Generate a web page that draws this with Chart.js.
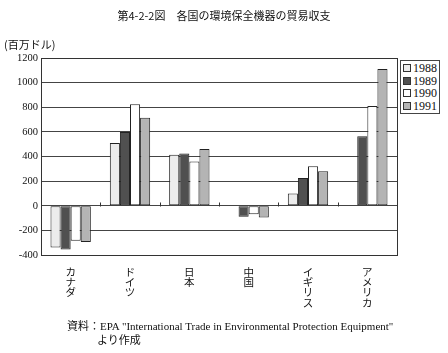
<!DOCTYPE html>
<html><head><meta charset="utf-8">
<script src="https://cdn.jsdelivr.net/npm/chart.js@4/dist/chart.umd.min.js"></script>
<style>
html,body{margin:0;padding:0;background:#fff;}
#wrap{position:relative;width:448px;height:353px;overflow:hidden;font-family:"Noto Sans CJK JP","Liberation Serif",serif;color:#111;}
#c{position:absolute;left:0;top:0;}
.t{position:absolute;white-space:nowrap;}
#title{left:0;width:448px;top:7px;text-align:center;font-size:11px;}
#unit{left:4px;top:36px;font-size:11px;}
#src{left:67px;top:320px;font-size:11px;line-height:13px;font-family:"Liberation Serif","Noto Sans CJK JP",serif;color:#111;}
#legend{position:absolute;left:400px;top:60px;width:36px;border:1px solid #444;padding:1px 0 1px 2px;font-family:"Liberation Serif",serif;font-size:12px;line-height:12.5px;background:#fff;color:#111;}
#legend div{display:flex;align-items:center;}
#legend span.sw{display:inline-block;width:8px;height:8px;border:1px solid #333;margin-right:2px;box-sizing:border-box;}
</style></head>
<body><div id="wrap">
<canvas id="c" width="448" height="353"></canvas>
<div class="t" id="title">第4-2-2図　各国の環境保全機器の貿易収支</div>
<div class="t" id="unit">(百万ドル)</div>
<div class="t" id="src">資料：EPA "International Trade in Environmental Protection Equipment"<br><span style="padding-left:30px;font-family:'Noto Sans CJK JP'">より作成</span></div>
<div id="legend"></div>
</div>
<script>
const categories = [["カ","ナ","ダ"],["ド","イ","ツ"],["日","本"],["中","国"],["イ","ギ","リ","ス"],["ア","メ","リ","カ"]];
const years = ["1988","1989","1990","1991"];
const v1988 = [-340, 510, 415, null, 100, null];
const v1989 = [-355, 600, 425, -90, 225, 565];
const v1990 = [-285, 825, 360, -70, 320, 810];
const v1991 = [-295, 715, 460, -95, 280, 1110];
const yTicks = [-400,-200,0,200,400,600,800,1000,1200];
const colors = ["#ececec","#505050","#ffffff","#b4b4b4"];
const series = [v1988, v1989, v1990, v1991];

const leg = document.getElementById('legend');
years.forEach((y,i)=>{
  const d=document.createElement('div');
  d.innerHTML='<span class="sw" style="background:'+colors[i]+'"></span>'+y;
  leg.appendChild(d);
});

const frame = {
  id:'frame',
  afterDraw(chart){
    const {ctx, chartArea:a, scales:{x,y}} = chart;
    ctx.save();
    ctx.strokeStyle='#333';ctx.lineWidth=1;
    ctx.strokeRect(Math.round(a.left)+0.5, Math.round(a.top)+0.5, Math.round(a.right-a.left), Math.round(a.bottom-a.top));
    const y0 = Math.round(y.getPixelForValue(0))+0.5;
    ctx.beginPath();
    for(let i=0;i<categories.length-1;i++){
      const px = Math.round(x.getPixelForValue(i+0.5))+0.5;
      ctx.moveTo(px,y0);ctx.lineTo(px,y0-4);
    }
    ctx.stroke();
    ctx.restore();
  }
};

new Chart(document.getElementById('c'),{
  type:'bar',
  data:{
    labels:categories,
    datasets: years.map((yr,i)=>({
      label:yr,
      data:series[i],
      backgroundColor:colors[i],
      borderColor:'#222',
      borderWidth:1,
      borderSkipped:false,
      categoryPercentage:0.68,
      barPercentage:1.0
    }))
  },
  options:{
    responsive:false,
    animation:false,
    layout:{padding:{top:58,right:51,left:4,bottom:0}},
    plugins:{legend:{display:false},tooltip:{enabled:false},title:{display:false}},
    scales:{
      x:{
        grid:{display:false},
        border:{display:false},
        ticks:{color:'#111',font:{family:'"Noto Sans CJK JP"',size:10.5,lineHeight:0.97},padding:4,maxRotation:0,autoSkip:false},
        afterFit(s){s.height=98;}
      },
      y:{
        min:-400,max:1200,
        afterBuildTicks(s){s.ticks=yTicks.map(v=>({value:v}));},
        grid:{color:'#444',lineWidth:1,drawTicks:false},
        border:{display:false},
        ticks:{color:'#111',font:{family:'"Liberation Serif"',size:10.5},padding:3,callback:(v)=>String(v)},
        afterFit(s){s.width=37;}
      }
    }
  },
  plugins:[frame]
});
</script>
</body></html>
